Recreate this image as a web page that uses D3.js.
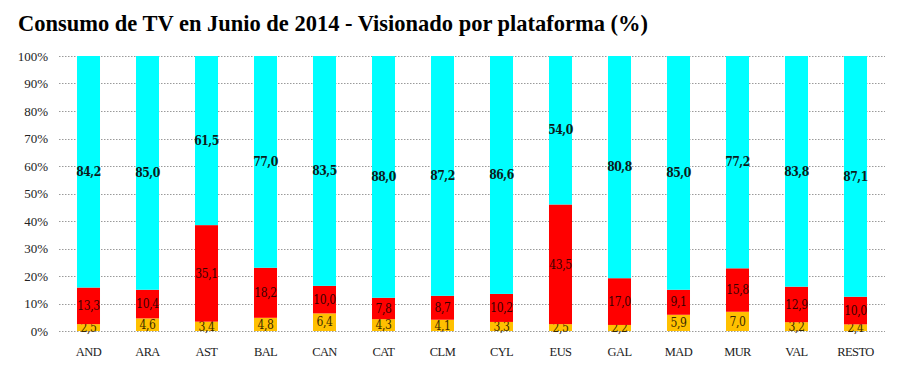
<!DOCTYPE html>
<html>
<head>
<meta charset="utf-8">
<script src="https://cdn.jsdelivr.net/npm/d3@7"></script>
<style>
  body { margin: 0; background: #fff; }
  svg { display: block; }
</style>
</head>
<body>
<svg id="chart" width="898" height="374"></svg>
<script>
// Datos
const regiones = ['AND', 'ARA', 'AST', 'BAL', 'CAN', 'CAT', 'CLM', 'CYL', 'EUS', 'GAL', 'MAD', 'MUR', 'VAL', 'RESTO']
const serieNaranja = [2.5, 4.6, 3.4, 4.8, 6.4, 4.3, 4.1, 3.3, 2.5, 2.2, 5.9, 7.0, 3.2, 2.4]
const serieRoja = [13.3, 10.4, 35.1, 18.2, 10.0, 7.8, 8.7, 10.2, 43.5, 17.0, 9.1, 15.8, 12.9, 10.0]
const serieCian = [84.2, 85.0, 61.5, 77.0, 83.5, 88.0, 87.2, 86.6, 54.0, 80.8, 85.0, 77.2, 83.8, 87.1]
const ticksY = [0, 10, 20, 30, 40, 50, 60, 70, 80, 90, 100]

const series = [
  { key: 'naranja', values: serieNaranja, color: '#FFC000', text: '#3a2a00', weight: 'normal' },
  { key: 'roja', values: serieRoja, color: '#FF0000', text: '#3a0000', weight: 'normal' },
  { key: 'cian', values: serieCian, color: '#00FFFF', text: '#0d1a1a', weight: 'bold' },
]

const fuente = '"Liberation Serif", "DejaVu Serif", serif'

const svg = d3.select('#chart')
const margin = { top: 56, right: 13, bottom: 43, left: 59 }
const width = 898 - margin.left - margin.right
const height = 374 - margin.top - margin.bottom

// Título
svg.append('text')
  .text('Consumo de TV en Junio de 2014 - Visionado por plataforma (%)')
  .attr('x', 18)
  .attr('y', 31)
  .attr('font-family', fuente)
  .attr('font-weight', 'bold')
  .attr('font-size', '24px')
  .attr('fill', '#000')
  .attr('textLength', 630)
  .attr('lengthAdjust', 'spacingAndGlyphs')

const x = d3.scaleBand().domain(regiones).range([0, width]).paddingInner(0.61).paddingOuter(0.305)
const y = d3.scaleLinear().domain([0, 100]).range([height, 0])

const g = svg.append('g').attr('transform', `translate(${margin.left},${margin.top})`)

// Líneas de rejilla
g.append('g')
  .selectAll('line')
  .data(ticksY)
  .enter()
  .append('line')
  .attr('x1', 0)
  .attr('x2', width)
  .attr('y1', d => Math.round(y(d)) + 0.5)
  .attr('y2', d => Math.round(y(d)) + 0.5)
  .attr('stroke', '#9a9a9a')
  .attr('stroke-dasharray', '1.5,1.5')

// Eje Y
const yAxis = g.append('g')
  .attr('font-family', fuente)
  .call(d3.axisLeft(y).tickValues(ticksY).tickFormat(d => d + '%').tickSize(0).tickPadding(11))
yAxis.select('.domain').remove()
yAxis.selectAll('text')
  .attr('font-family', fuente)
  .attr('font-size', '13px')
  .attr('fill', '#222')

// Eje X
const xAxis = g.append('g')
  .attr('font-family', fuente)
  .attr('transform', `translate(0,${height})`)
  .call(d3.axisBottom(x).tickSize(0).tickPadding(16))
xAxis.select('.domain').remove()
xAxis.selectAll('text')
  .attr('font-family', fuente)
  .attr('font-size', '12.5px')
  .attr('fill', '#222')
  .attr('letter-spacing', '-0.6px')

// Barras apiladas al 100%
const tabla = regiones.map((r, i) => {
  const fila = { region: r }
  series.forEach(s => { fila[s.key] = s.values[i] })
  return fila
})
const stack = d3.stack()
  .keys(series.map(s => s.key))
  .offset(d3.stackOffsetExpand)(tabla)

stack.forEach((capa, k) => {
  const s = series[k]
  g.append('g')
    .selectAll('rect')
    .data(capa)
    .enter()
    .append('rect')
    .attr('x', d => x(d.data.region))
    .attr('width', x.bandwidth())
    .attr('y', d => y(d[1] * 100))
    .attr('height', d => y(d[0] * 100) - y(d[1] * 100))
    .attr('fill', s.color)

  g.append('g')
    .selectAll('text')
    .data(capa)
    .enter()
    .append('text')
    .attr('x', d => x(d.data.region) + x.bandwidth() / 2)
    .attr('y', d => y((d[0] + d[1]) * 50))
    .attr('dy', '0.35em')
    .attr('text-anchor', 'middle')
    .attr('font-family', '"DejaVu Serif Condensed", "Liberation Serif", serif')
    .attr('font-size', '12px')
    .attr('font-weight', s.weight)
    .attr('letter-spacing', '-0.4px')
    .attr('fill', s.text)
    .text(d => d.data[s.key].toFixed(1).replace('.', ','))
})
</script>
</body>
</html>
